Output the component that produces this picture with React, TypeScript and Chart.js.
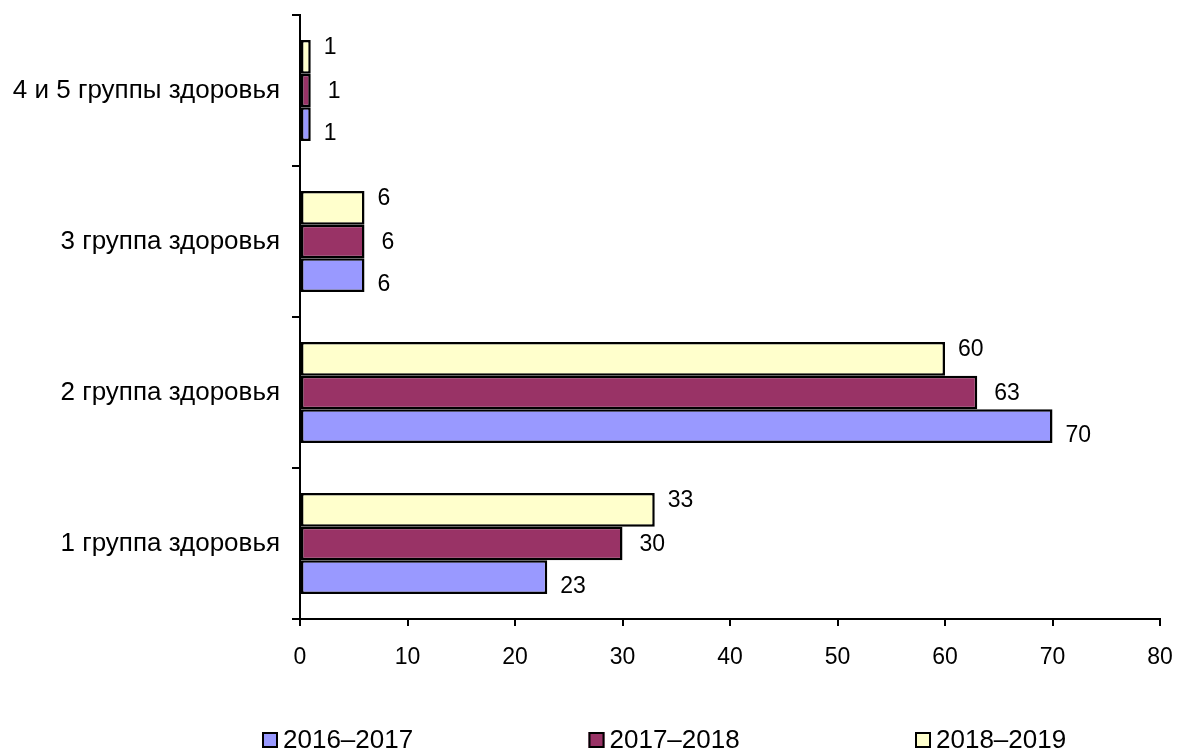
import React, { useEffect, useRef } from "react";
import { Chart, registerables } from "chart.js";

Chart.register(...registerables);

// Categories listed top-to-bottom as they appear on the chart
const categories: string[] = [
  "4 и 5 группы здоровья",
  "3 группа здоровья",
  "2 группа здоровья",
  "1 группа здоровья",
];

const seriesNames: string[] = ["2016–2017", "2017–2018", "2018–2019"];
const values2016_2017: number[] = [1, 6, 70, 23];
const values2017_2018: number[] = [1, 6, 63, 30];
const values2018_2019: number[] = [1, 6, 60, 33];

const xTickValues: number[] = [0, 10, 20, 30, 40, 50, 60, 70, 80];

const FONT = "'Liberation Sans', Arial, Helvetica, sans-serif";
const COLORS = ["#9999FF", "#993366", "#FFFFCC"];

export default function App() {
  const ref = useRef<HTMLCanvasElement | null>(null);

  useEffect(() => {
    if (!ref.current) return;

    // datasets ordered so the latest period is on top within each group
    const series = [
      { name: seriesNames[2], data: values2018_2019, color: COLORS[2] },
      { name: seriesNames[1], data: values2017_2018, color: COLORS[1] },
      { name: seriesNames[0], data: values2016_2017, color: COLORS[0] },
    ];

    const labelOffset: Record<string, { dx: number; dy: number }> = {
      [seriesNames[2]]: { dx: 13, dy: -9 },
      [seriesNames[1]]: { dx: 17, dy: 1 },
      [seriesNames[0]]: { dx: 13, dy: 9 },
    };

    const dataLabels = {
      id: "dataLabels",
      afterDatasetsDraw(chart: any) {
        const ctx = chart.ctx;
        ctx.save();
        ctx.font = `23px ${FONT}`;
        ctx.fillStyle = "#000";
        ctx.textAlign = "left";
        ctx.textBaseline = "middle";
        chart.data.datasets.forEach((ds: any, i: number) => {
          const meta = chart.getDatasetMeta(i);
          const off = labelOffset[ds.label];
          meta.data.forEach((el: any, j: number) => {
            ctx.fillText(String(ds.data[j]), el.x + off.dx, el.y + off.dy);
          });
        });
        ctx.restore();
      },
    };

    const customLegend = {
      id: "customLegend",
      afterDraw(chart: any) {
        const ctx = chart.ctx;
        ctx.save();
        ctx.font = `26px ${FONT}`;
        ctx.textBaseline = "middle";
        ctx.textAlign = "left";
        const y = chart.height - 14;
        const startX = chart.chartArea.left - 38;
        const step = 326.5;
        const box = 16;
        seriesNames.forEach((name, i) => {
          const ds = chart.data.datasets.find((d: any) => d.label === name);
          const x = startX + i * step;
          ctx.fillStyle = ds.backgroundColor;
          ctx.fillRect(x, y - box / 2, box, box);
          ctx.strokeStyle = "#000";
          ctx.lineWidth = 2;
          ctx.strokeRect(x + 1, y - box / 2 + 1, box - 2, box - 2);
          ctx.fillStyle = "#000";
          ctx.fillText(name, x + box + 5, y + 1);
        });
        ctx.restore();
      },
    };

    const chart = new Chart(ref.current, {
      type: "bar",
      data: {
        labels: categories,
        datasets: series.map((s) => ({
          label: s.name,
          data: s.data,
          backgroundColor: s.color,
          borderColor: "#000",
          borderWidth: 2.5,
          borderSkipped: false,
          categoryPercentage: 0.67,
          barPercentage: 1,
        })),
      },
      options: {
        indexAxis: "y",
        animation: false,
        responsive: false,
        maintainAspectRatio: false,
        layout: { padding: { top: 15, right: 19, left: 0, bottom: 0 } },
        plugins: {
          legend: { display: false },
          tooltip: { enabled: false },
          title: { display: false },
        },
        scales: {
          x: {
            type: "linear",
            min: 0,
            max: 80,
            afterBuildTicks(scale: any) {
              scale.ticks = xTickValues.map((v) => ({ value: v }));
            },
            afterFit(scale: any) {
              scale.height = 135;
              scale.paddingLeft = 0;
              scale.paddingRight = 0;
            },
            border: { display: true, color: "#000", width: 2 },
            grid: {
              drawOnChartArea: false,
              drawTicks: true,
              tickLength: 7,
              color: "#000",
              lineWidth: 2,
            },
            ticks: {
              color: "#000",
              font: { size: 23, family: FONT },
              padding: 18,
              maxRotation: 0,
            },
          },
          y: {
            type: "category",
            afterFit(scale: any) {
              scale.width = 300;
              scale.paddingTop = 0;
              scale.paddingBottom = 0;
            },
            border: { display: true, color: "#000", width: 2 },
            grid: {
              drawOnChartArea: false,
              drawTicks: true,
              tickLength: 8,
              color: "#000",
              lineWidth: 2,
              offset: true,
            },
            ticks: {
              color: "#000",
              font: { size: 26, family: FONT },
              padding: 12,
            },
          },
        },
      },
      plugins: [dataLabels, customLegend],
    });

    return () => chart.destroy();
  }, []);

  return (
    <div style={{ position: "fixed", left: 0, top: 0, width: 1179, height: 754, background: "#fff" }}>
      <canvas ref={ref} width={1179} height={754} style={{ width: 1179, height: 754 }} />
    </div>
  );
}
